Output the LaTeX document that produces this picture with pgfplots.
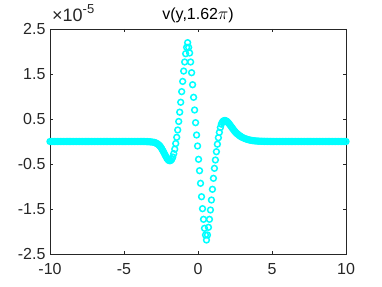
\documentclass[border=0pt]{standalone}
\usepackage{fontspec}
\setmainfont{Liberation Sans}
\usepackage{pgfplots}
\pgfplotsset{compat=1.18}
\definecolor{axgray}{RGB}{38,38,38}
\definecolor{mcyan}{rgb}{0,1,1}
\begin{document}
\begin{tikzpicture}
\begin{axis}[
 scale only axis, width=296pt, height=225pt,
 xmin=-10, xmax=10, ymin=-2.5, ymax=2.5,
 xtick={-10,-5,0,5,10},
 xticklabels={-10,-5,0,5,10},
 ytick={-2.5,-1.5,-0.5,0.5,1.5,2.5},
 yticklabels={-2.5,-1.5,-0.5,0.5,1.5,2.5},
 tick align=inside, major tick length=3pt,
 axis line style={axgray, line width=0.6pt},
 tick style={axgray, line width=0.6pt},
 ticklabel style={font=\fontsize{16}{18}\selectfont, text=axgray},
 xticklabel style={yshift=-6pt},
 yticklabel style={xshift=-1pt},
 title={v(y,1.62$\pi$)},
 title style={font=\fontsize{16}{18}\selectfont, yshift=-3pt},
 clip=false,
]
\addplot[only marks, mark=o, mark size=2.9pt, color=mcyan, mark options={line width=1.5pt}] coordinates {
(-10,0)(-9.9,0)(-9.8,0)(-9.7,0)(-9.6,0)(-9.5,0)(-9.4,0)(-9.3,0)(-9.2,0)(-9.1,0)
(-9,0)(-8.9,0)(-8.8,0)(-8.7,0)(-8.6,0)(-8.5,0)(-8.4,0)(-8.3,0)(-8.2,0)(-8.1,0)
(-8,0)(-7.9,0)(-7.8,0)(-7.7,0)(-7.6,0)(-7.5,0)(-7.4,0)(-7.3,0)(-7.2,0)(-7.1,0)
(-7,0)(-6.9,0)(-6.8,0)(-6.7,0)(-6.6,0)(-6.5,0)(-6.4,0)(-6.3,0)(-6.2,0)(-6.1,0)
(-6,0)(-5.9,0)(-5.8,0)(-5.7,0)(-5.6,0)(-5.5,0)(-5.4,0)(-5.3,0)(-5.2,0)(-5.1,0)
(-5,0)(-4.9,0)(-4.8,0)(-4.7,0)(-4.6,0)(-4.5,0)(-4.4,0)(-4.3,0)(-4.2,0)(-4.1,0)
(-4,0)(-3.9,0)(-3.8,0)(-3.7,0)(-3.6,0)
(-3.5,-0.002)(-3.4,-0.003)(-3.3,-0.005)(-3.2,-0.008)(-3.1,-0.012)
(-2.978,-0.018)(-2.911,-0.025)(-2.844,-0.034)(-2.777,-0.045)(-2.710,-0.06)
(-2.643,-0.078)(-2.576,-0.10)(-2.509,-0.13)(-2.442,-0.165)(-2.375,-0.205)
(-2.308,-0.245)(-2.241,-0.29)(-2.174,-0.33)(-2.107,-0.37)(-2.040,-0.40)
(-1.973,-0.42)(-1.906,-0.428)(-1.839,-0.42)(-1.772,-0.395)(-1.705,-0.345)
(-1.638,-0.27)(-1.571,-0.170)(-1.504,-0.045)(-1.437,0.093)(-1.370,0.256)
(-1.303,0.445)(-1.236,0.652)(-1.169,0.872)(-1.102,1.108)(-1.035,1.335)
(-0.968,1.565)(-0.901,1.767)(-0.834,1.951)(-0.767,2.093)(-0.700,2.196)
(-0.633,2.093)(-0.566,1.967)(-0.499,1.767)(-0.432,1.529)(-0.365,1.262)
(-0.298,0.982)(-0.231,0.70)(-0.164,0.418)(-0.097,0.144)(-0.030,-0.10)
(0.037,-0.396)(0.104,-0.649)(0.171,-0.929)(0.238,-1.227)(0.305,-1.493)
(0.372,-1.729)(0.439,-1.929)(0.506,-2.078)(0.573,-2.189)(0.640,-2.078)
(0.707,-1.907)(0.774,-1.729)(0.841,-1.522)(0.908,-1.30)(0.975,-1.062)
(1.042,-0.818)(1.109,-0.596)(1.176,-0.411)(1.243,-0.227)(1.310,-0.06)
(1.377,0.084)(1.444,0.204)(1.511,0.31)(1.578,0.385)(1.645,0.43)
(1.712,0.455)(1.779,0.465)(1.846,0.465)(1.913,0.455)(1.980,0.44)
(2.047,0.415)(2.114,0.39)(2.181,0.36)(2.248,0.33)(2.315,0.30)
(2.382,0.27)(2.449,0.24)(2.516,0.215)(2.583,0.19)(2.650,0.17)
(2.717,0.155)(2.784,0.135)(2.851,0.12)(2.918,0.105)(2.985,0.092)
(3.1,0.075)(3.2,0.062)(3.3,0.05)(3.4,0.04)(3.5,0.032)(3.6,0.025)(3.7,0.02)(3.8,0.016)(3.9,0.012)
(4,0.01)(4.1,0.008)(4.2,0.006)(4.3,0.005)(4.4,0.004)(4.5,0.003)(4.6,0.002)(4.7,0.002)(4.8,0.001)(4.9,0.001)
(5,0)(5.1,0)(5.2,0)(5.3,0)(5.4,0)(5.5,0)(5.6,0)(5.7,0)(5.8,0)(5.9,0)
(6,0)(6.1,0)(6.2,0)(6.3,0)(6.4,0)(6.5,0)(6.6,0)(6.7,0)(6.8,0)(6.9,0)
(7,0)(7.1,0)(7.2,0)(7.3,0)(7.4,0)(7.5,0)(7.6,0)(7.7,0)(7.8,0)(7.9,0)
(8,0)(8.1,0)(8.2,0)(8.3,0)(8.4,0)(8.5,0)(8.6,0)(8.7,0)(8.8,0)(8.9,0)
(9,0)(9.1,0)(9.2,0)(9.3,0)(9.4,0)(9.5,0)(9.6,0)(9.7,0)(9.8,0)(9.9,0)
(10,0)
};
\end{axis}
\node[anchor=base west, text=axgray, inner sep=0pt] at ([shift={(2pt,7pt)}]current axis.north west) {\fontsize{18}{20}\selectfont ×10\raisebox{8pt}{\fontsize{13}{15}\selectfont -5}};
\path ([shift={(-50pt,-32pt)}]current axis.south west) rectangle ([shift={(36pt,29pt)}]current axis.north east);
\end{tikzpicture}
\end{document}
